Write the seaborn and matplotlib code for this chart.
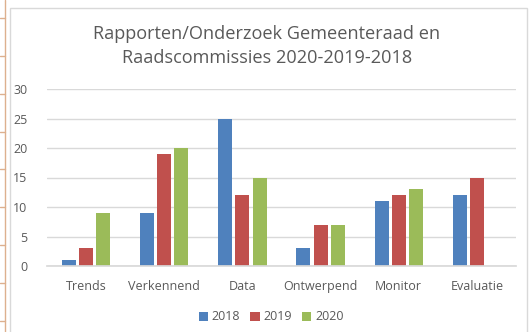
import matplotlib
matplotlib.use("Agg")
import matplotlib.pyplot as plt
from matplotlib.patches import Rectangle
from matplotlib.lines import Line2D
import seaborn as sns
import pandas as pd

categories = ["Trends", "Verkennend", "Data", "Ontwerpend", "Monitor", "Evaluatie"]
years = ["2018", "2019", "2020"]
values_2018 = [1, 9, 25, 3, 11, 12]
values_2019 = [3, 19, 12, 7, 12, 15]
values_2020 = [9, 20, 15, 7, 13, None]
y_ticks = [0, 5, 10, 15, 20, 25, 30]
title = "Rapporten/Onderzoek Gemeenteraad en\nRaadscommissies 2020-2019-2018"

palette = ["#4F81BD", "#C0504D", "#9BBB59"]
text_grey = "#595959"

rows = []
for year, vals in zip(years, [values_2018, values_2019, values_2020]):
    for cat, v in zip(categories, vals):
        if v is not None:
            rows.append({"categorie": cat, "jaar": year, "aantal": v})
df = pd.DataFrame(rows)

sns.set_theme(style="white")
plt.rcParams["font.family"] = ["Open Sans", "DejaVu Sans"]

W, H = 531, 332
fig = plt.figure(figsize=(W / 100, H / 100), dpi=100)

# spreadsheet cells behind the chart object
cell_col = "#DDB08E"
fig.add_artist(Line2D([5 / W, 5 / W], [0, 1], color=cell_col, lw=1.0, zorder=-2))
for yy in [18, 56, 94, 132, 169, 207, 245, 283, 321]:
    fig.add_artist(Line2D([0, 5 / W], [1 - yy / H, 1 - yy / H], color=cell_col,
                          lw=1.0, zorder=-2))
# chart object frame
fig.add_artist(Rectangle((10 / W, -0.05), (527 - 10) / W, 1 - 8 / H + 0.05,
                         transform=fig.transFigure, facecolor="white",
                         edgecolor="#D9D9D9", lw=1.0, zorder=-1))

ax = fig.add_axes([47 / W, (H - 266) / H, (516 - 47) / W, (266 - 89) / H])
ax.patch.set_alpha(0)
sns.barplot(data=df, x="categorie", y="aantal", hue="jaar", order=categories,
            hue_order=years, palette=palette, width=0.66, gap=0.18,
            saturation=1, linewidth=0, ax=ax, legend=True)

ax.set_ylim(0, 30)
ax.set_yticks(y_ticks)
ax.set_xlim(-0.5, len(categories) - 0.5)
ax.yaxis.grid(True, color="#D9D9D9", lw=1.0)
ax.set_axisbelow(True)
for s in ["top", "right", "left"]:
    ax.spines[s].set_visible(False)
ax.spines["bottom"].set_color("#D9D9D9")
ax.tick_params(axis="both", length=0, labelsize=9, colors=text_grey)
ax.tick_params(axis="x", pad=10)
ax.tick_params(axis="y", pad=14)
ax.set_xlabel("")
ax.set_ylabel("")

fig.text(267 / W, 1 - 46 / H, title, ha="center", va="center", fontsize=13.1,
         color=text_grey, linespacing=1.45)

handles, labels = ax.get_legend_handles_labels()
ax.legend_.remove()
fig.legend(handles, labels, loc="center", bbox_to_anchor=(271 / W, 1 - 317 / H),
           ncol=3, frameon=False, fontsize=9, handlelength=0.75, handleheight=0.75,
           handletextpad=0.3, columnspacing=0.8, labelcolor=text_grey)

fig.savefig("out.png", dpi=100)
